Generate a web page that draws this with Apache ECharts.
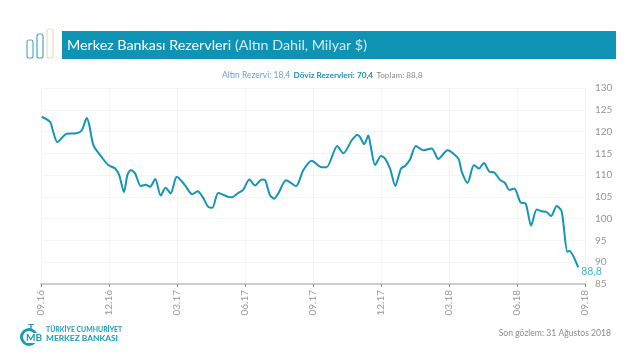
<!DOCTYPE html>
<html><head><meta charset="utf-8">
<style>html,body{margin:0;padding:0;background:#fff}#c{width:640px;height:359px}</style>
<script src="https://cdn.jsdelivr.net/npm/echarts@6/dist/echarts.min.js"></script>
</head><body><div id="c"></div>
<script>
// months elapsed since 09.16
const months = [0.03,0.4,0.54,0.72,1.13,1.57,1.8,2.02,2.13,2.31,2.68,2.97,3.27,3.45,3.66,3.81,3.96,4.15,4.4,4.62,4.81,5.04,5.28,5.5,5.72,5.99,6.35,6.67,6.91,7.13,7.38,7.56,7.82,8.26,8.41,8.7,8.92,9.19,9.44,9.74,9.88,10.1,10.28,10.47,10.81,11.25,11.57,11.94,12.38,12.6,13.07,13.34,13.71,13.95,14.07,14.26,14.44,14.55,14.74,15,15.18,15.4,15.63,15.88,16.06,16.28,16.54,16.87,17.24,17.53,17.94,18.41,18.56,18.82,19.1,19.32,19.54,19.78,20,20.25,20.47,20.66,20.88,21.16,21.38,21.62,21.87,22.09,22.31,22.5,22.75,22.97,23.22,23.31,23.7];
const reserves = [123.4,122.2,119.9,117.6,119.5,119.6,120.3,123.1,121.5,116.9,114.1,112.3,111.5,110,106.1,110,111.2,110.4,107.5,107.8,107.3,109.1,105.3,107.1,105.8,109.6,107.7,105.6,106.3,105,102.7,102.5,105.9,105,104.9,105.9,106.6,109,107.6,109,108.9,105.4,104.6,105.8,108.8,107.5,111.1,113.3,111.8,111.8,116.7,115,118,119.2,118.8,117.1,119.1,116.5,112.3,114.4,113.8,111.5,107.5,111.5,112.1,113.6,116.7,115.7,116.1,113.7,115.7,113.8,110.8,108.2,112.3,111.5,112.8,110.8,110.6,108.9,108.2,106.6,106.9,103.7,103.5,98.4,102.1,101.7,101.5,100.6,102.9,101.7,92.4,92.6,88.8];
const tickLabels = ["09.16","12.16","03.17","06.17","09.17","12.17","03.18","06.18","09.18"];
const titleMain = "Merkez Bankası Rezervleri";
const titleUnit = " (Altın Dahil, Milyar $)";
const lastLabel = "88,8";

const chart = echarts.init(document.getElementById('c'), null, {renderer:'canvas'});
const F = 'Lato, "Open Sans", sans-serif';
const iconBar = (x,y,h,c) => ({type:'rect',shape:{x,y,width:6,height:h,r:2},style:{fill:'#fff',stroke:c,lineWidth:1.2}});
chart.setOption({
  animation:false,
  backgroundColor:'#fff',
  grid:{left:41,right:55,top:88,bottom:75,containLabel:false},
  xAxis:{type:'value',min:0,max:24,interval:3,
    axisLine:{show:true,lineStyle:{color:'#bdbdbd',width:1.5},onZero:false},
    axisTick:{show:true,length:3,lineStyle:{color:'#8c8c8c'}},
    splitLine:{show:true,lineStyle:{color:'#f4f4f4',width:1}},
    axisLabel:{rotate:90,color:'#9a9a9a',fontFamily:F,fontSize:10,margin:6,
      formatter:v=>tickLabels[v/3],showMinLabel:true,showMaxLabel:true}},
  yAxis:{type:'value',position:'right',min:85,max:130,interval:5,
    axisLine:{show:false},axisTick:{show:false},
    splitLine:{show:true,lineStyle:{color:'#f4f4f4',width:1}},
    axisLabel:{color:'#959595',fontFamily:F,fontSize:10,margin:10,showMinLabel:true,showMaxLabel:true}},
  series:[{type:'line',data:months.map((m,i)=>[m,reserves[i]]),showSymbol:false,smooth:0.25,
    lineStyle:{color:'#1495b5',width:2},itemStyle:{color:'#1495b5'},
    endLabel:{show:true,formatter:lastLabel,color:'#45b5c6',fontFamily:F,fontSize:10.5,offset:[-5,4]}}],
  graphic:[
    iconBar(27,40,18,'#5ba9c4'),iconBar(37,34,24,'#4fa3bd'),iconBar(47,29,29,'#efdcc0'),
    {type:'rect',shape:{x:62,y:31,width:554,height:28},style:{fill:'#0e93b4'}},
    {type:'text',x:67,y:45,style:{rich:{a:{fill:'#fff',fontFamily:F,fontSize:14.3},b:{fill:'#d3edf3',fontFamily:F,fontSize:14.3}},
      text:`{a|${titleMain}}{b|${titleUnit}}`,verticalAlign:'middle'}},
    {type:'text',x:222,y:75,style:{rich:{a:{fill:'#6d9ed6',fontFamily:F,fontSize:8.5},b:{fill:'#1b8fae',fontFamily:F,fontSize:8.2,fontWeight:'bold'},c:{fill:'#8a8a8a',fontFamily:F,fontSize:8.2}},
      text:'{a|Altın Rezervi: 18,4} {b|Döviz Rezervleri: 70,4} {c|Toplam: 88,8}',verticalAlign:'middle'}},
    {type:'circle',shape:{cx:29,cy:337,r:7.5},style:{fill:'none',stroke:'#1a9cb8',lineWidth:3}},
    {type:'text',x:31,y:328,style:{text:'T',fill:'#1a9cb8',fontFamily:F,fontSize:10,fontWeight:'bold',align:'center',verticalAlign:'middle'}},
    {type:'text',x:34,y:338,style:{text:'MB',fill:'#1a9cb8',backgroundColor:'#fff',fontFamily:F,fontSize:10,fontWeight:'bold',align:'center',verticalAlign:'middle'}},
    {type:'text',x:46,y:330,style:{text:'TÜRKİYE CUMHURİYET',fill:'#1a9cb8',fontFamily:F,fontSize:6.9,fontWeight:'bold',verticalAlign:'middle'}},
    {type:'text',x:46,y:338.5,style:{text:'MERKEZ BANKASI',fill:'#1a9cb8',fontFamily:F,fontSize:8.4,fontWeight:'bold',verticalAlign:'middle'}},
    {type:'text',x:611,y:333,style:{text:'Son gözlem: 31 Ağustos 2018',fill:'#8c8c8c',fontFamily:F,fontSize:8.6,align:'right',verticalAlign:'middle'}}
  ]
});
</script></body></html>
